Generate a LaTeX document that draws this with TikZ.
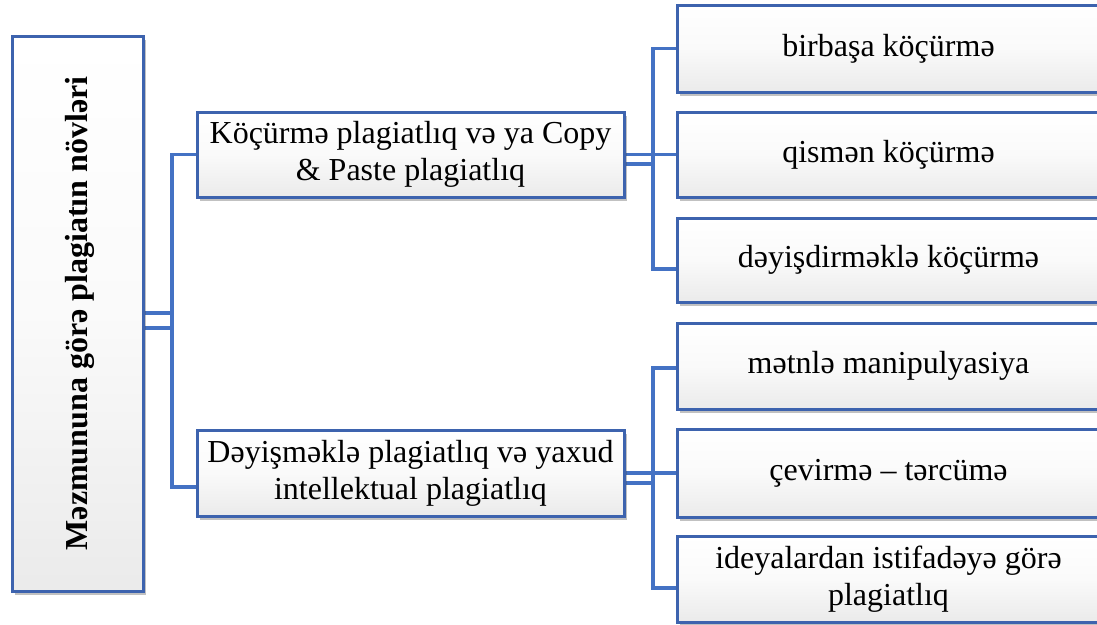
\documentclass[tikz,border=0pt]{standalone}
\usepackage{fontspec}
\setmainfont{Liberation Serif}
\usetikzlibrary{shadows}
\definecolor{bord}{HTML}{3D63AE}
\definecolor{linkc}{HTML}{4472C4}
\tikzset{
  box/.style={draw=bord, line width=3pt, top color=white, bottom color=black!8,
    middle color=white!98!black, inner sep=0pt, align=center,
    drop shadow={shadow xshift=2.5pt, shadow yshift=-3.5pt, opacity=0.35, fill=black!70},
    font=\fontsize{32}{37}\selectfont},
  link/.style={draw=linkc, line width=3.2pt},
  roottext/.style={rotate=90, font=\fontsize{32}{37}\selectfont\bfseries}
}
\begin{document}
\begin{tikzpicture}[x=1pt,y=-1pt]
\useasboundingbox (0,0) rectangle (1097,624);
% connectors first (behind boxes)
\coordinate (rootE) at (143,313.5);
\coordinate (m1W) at (197,154.5);
\coordinate (m2W) at (197,473);
\coordinate (m1E) at (624,154.5);
\coordinate (m2E) at (624,473);
\coordinate (r1W) at (677,48.5);
\coordinate (r2W) at (677,154.5);
\coordinate (r3W) at (677,260);
\coordinate (r4W) at (677,366);
\coordinate (r5W) at (677,473);
\coordinate (r6W) at (677,579);
\draw[link] ([yshift=0.5pt]rootE) -- ++(29,0) |- (m1W);
\draw[link] ([yshift=-14.5pt]rootE) -- ++(29,0) |- ([yshift=-14pt]m2W);
\draw[link] ([xshift=29pt,yshift=0.5pt]rootE) -- ([xshift=29pt,yshift=-14.5pt]rootE);
\draw[link] (m1E) -- ++(29,0) |- (r1W);
\draw[link] (m1E) -- (r2W);
\draw[link] ([yshift=-9.5pt]m1E) -- ++(29,0) |- ([yshift=-9pt]r3W);
\draw[link] ([xshift=29pt]m1E) -- ([xshift=29pt,yshift=-9.5pt]m1E);
\draw[link] (m2E) -- ++(29,0) |- ([yshift=-2pt]r4W);
\draw[link] (m2E) -- (r5W);
\draw[link] ([yshift=-10pt]m2E) -- ++(29,0) |- ([yshift=-9pt]r6W);
\draw[link] ([xshift=29pt]m2E) -- ([xshift=29pt,yshift=-10pt]m2E);
% boxes
\node[box, minimum width=131pt, minimum height=555pt] (root) at (77.5,313.5) {};
\node[roottext] (roott) at ([xshift=2pt]root.center) {Məzmununa görə plagiatın növləri};
\node[box, minimum width=427pt, minimum height=85pt] (m1) at (410.5,154.5) {Köçürmə plagiatlıq və ya Copy\\\& Paste plagiatlıq};
\node[box, minimum width=427pt, minimum height=86pt] (m2) at (410.5,473) {Dəyişməklə plagiatlıq və yaxud\\intellektual plagiatlıq};
\node[box, minimum width=423pt, minimum height=87pt] (r1) at (888.5,48.5) {birbaşa köçürmə};
\node[box, minimum width=423pt, minimum height=85pt] (r2) at (888.5,154.5) {qismən köçürmə};
\node[box, minimum width=423pt, minimum height=84pt] (r3) at (888.5,260) {dəyişdirməklə köçürmə};
\node[box, minimum width=423pt, minimum height=86pt] (r4) at (888.5,366) {mətnlə manipulyasiya};
\node[box, minimum width=423pt, minimum height=88pt] (r5) at (888.5,473) {çevirmə – tərcümə};
\node[box, minimum width=423pt, minimum height=86pt] (r6) at (888.5,579) {ideyalardan istifadəyə görə\\plagiatlıq};
\end{tikzpicture}
\end{document}
